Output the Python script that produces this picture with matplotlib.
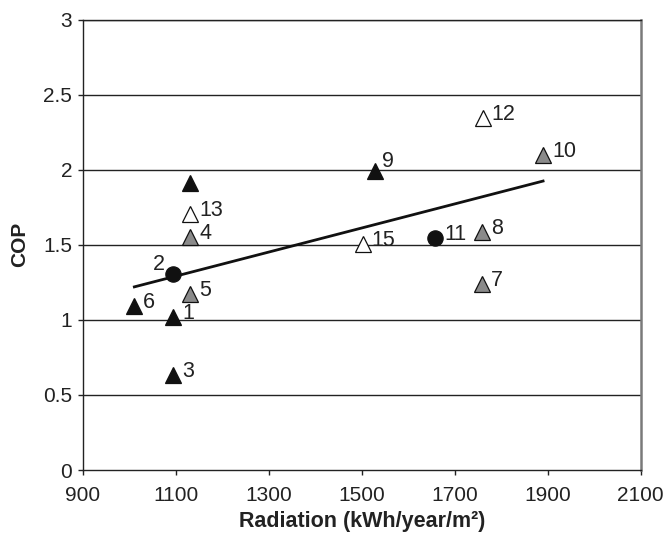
import matplotlib
matplotlib.use("Agg")
import matplotlib.pyplot as plt

plt.rcParams['font.family'] = ['Liberation Sans', 'DejaVu Sans']

# site data: radiation (kWh/year/m2) vs COP
black_tri_x = [1095, 1095, 1011, 1529, 1131]
black_tri_y = [1.02, 0.635, 1.093, 1.994, 1.91]
black_tri_lbl = ['1', '3', '6', '9', '']

gray_tri_x = [1131, 1131, 1759, 1759, 1890]
gray_tri_y = [1.554, 1.173, 1.239, 1.588, 2.10]
gray_tri_lbl = ['4', '5', '7', '8', '10']

white_tri_x = [1760, 1131, 1502]
white_tri_y = [2.343, 1.706, 1.506]
white_tri_lbl = ['12', '13', '15']

circle_x = [1094, 1658]
circle_y = [1.306, 1.546]
circle_lbl = ['2', '11']

# trend line end points
trend_x = [1011, 1890]
trend_y = [1.22, 1.925]

xticks = [900, 1100, 1300, 1500, 1700, 1900, 2100]
yticks = [0, 0.5, 1, 1.5, 2, 2.5, 3]

fig = plt.figure(figsize=(6.65, 5.45), dpi=100)
ax = fig.add_axes([0.1244, 0.1376, 0.8391, 0.8263])

for y in yticks[1:]:
    ax.axhline(y, color='#222222', lw=1.0, zorder=1)

ax.plot(trend_x, trend_y, color='#111111', lw=2.0, zorder=2)

groups = [
    (black_tri_x, black_tri_y, black_tri_lbl, '^', '#111111', 12),
    (gray_tri_x, gray_tri_y, gray_tri_lbl, '^', '#8a8a8a', 12),
    (white_tri_x, white_tri_y, white_tri_lbl, '^', 'white', 12),
    (circle_x, circle_y, circle_lbl, 'o', '#111111', 11),
]
for xs, ys, lbls, m, fc, ms in groups:
    ax.plot(xs, ys, linestyle='none', marker=m, markersize=ms,
            markerfacecolor=fc, markeredgecolor='#111111',
            markeredgewidth=0.9, zorder=3)
    for x, y, t in zip(xs, ys, lbls):
        if not t:
            continue
        if t == '2':
            off, ha = (-6, 7), 'right'
        elif t == '9':
            off, ha = (5, 6.5), 'left'
        else:
            off, ha = (6.5, 2.5), 'left'
        ax.annotate(t, (x, y), xytext=off, textcoords='offset points',
                    ha=ha, va='center', fontsize=15.5, color='#222222')

ax.set_xlim(900, 2100)
ax.set_ylim(0, 3)
ax.set_xticks(xticks)
ax.set_yticks(yticks)
ax.set_yticklabels(['0', '0.5', '1', '1.5', '2', '2.5', '3'])
ax.tick_params(direction='out', length=3.5, width=1, labelsize=15,
               colors='#222222')
ax.tick_params(axis='x', pad=8)
ax.tick_params(axis='y', pad=4)

for s in ['left', 'bottom', 'top']:
    ax.spines[s].set_color('#222222')
    ax.spines[s].set_linewidth(1.0)
ax.spines['right'].set_color('#7a7a7a')
ax.spines['right'].set_linewidth(1.8)

ax.set_xlabel('Radiation (kWh/year/m²)', fontsize=15.5, fontweight='bold',
              color='#222222', labelpad=4)
ax.set_ylabel('COP', fontsize=15, fontweight='bold', color='#222222',
              labelpad=10)

fig.savefig('out.png', dpi=100)
